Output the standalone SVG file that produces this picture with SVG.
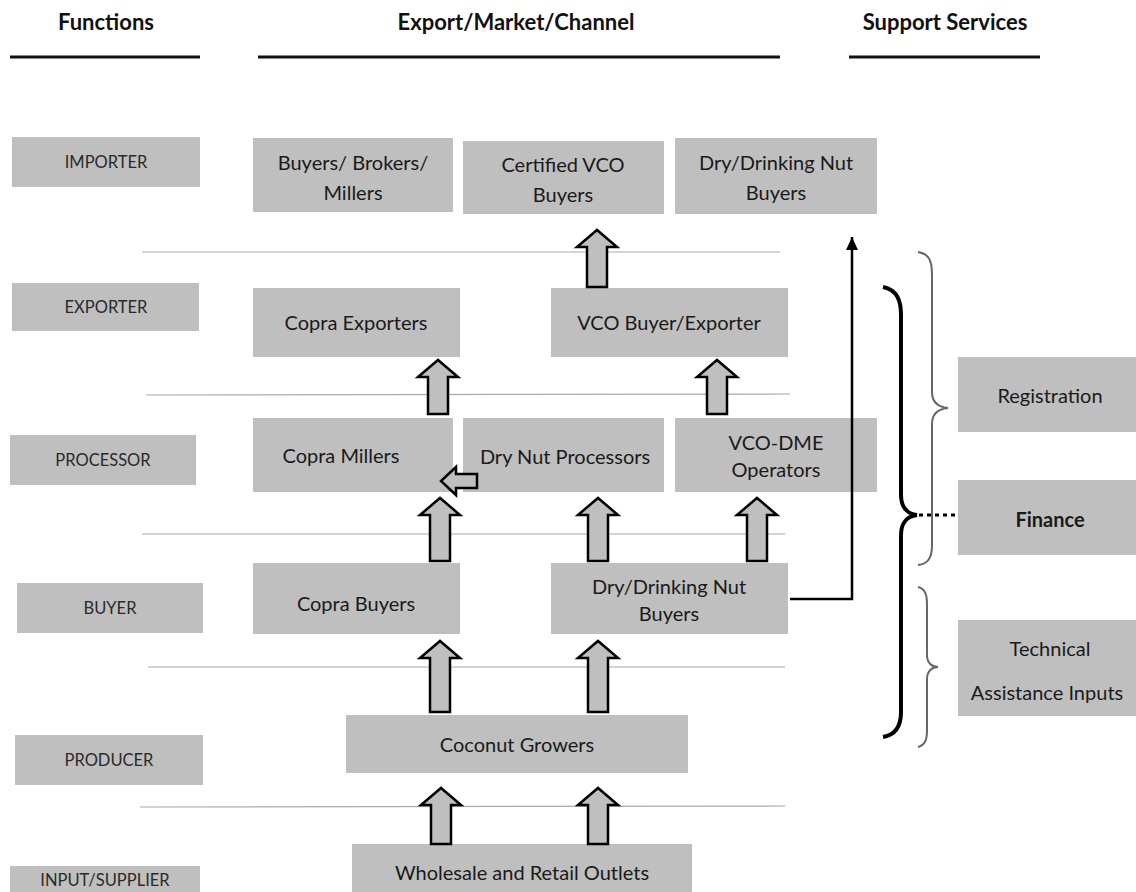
<svg xmlns="http://www.w3.org/2000/svg" width="1136" height="892" viewBox="0 0 1136 892">
<style>
text{font-family:Lato,"Open Sans","Liberation Sans",sans-serif;fill:#1a1a1a;text-anchor:middle}
.hdr{font-size:22px;font-weight:bold;fill:#111}
.fn{font-size:16.5px;fill:#2a2a2a}
.bx{fill:#bfbfbf}
.t{font-size:20px}
.sep{stroke:#aaa;stroke-width:1.2;fill:none}
.hl{stroke:#111;stroke-width:3}
.ua{fill:#bfbfbf;stroke:#000;stroke-width:2.5;stroke-linejoin:miter}
</style>
<defs>
<marker id="ah" markerWidth="13" markerHeight="12" refX="13" refY="6" orient="auto" markerUnits="userSpaceOnUse" viewBox="0 0 13 12">
<path d="M0,0 L13,6 L0,12 Z" fill="#000"/>
</marker>
</defs>
<rect width="1136" height="892" fill="#fff"/>
<g id="headers">
<text class="hdr" x="106" y="30">Functions</text>
<text class="hdr" x="516" y="30">Export/Market/Channel</text>
<text class="hdr" x="945" y="30">Support Services</text>
<line class="hl" x1="10" y1="57" x2="200" y2="57"/>
<line class="hl" x1="258" y1="57" x2="780" y2="57"/>
<line class="hl" x1="849" y1="57" x2="1040" y2="57"/>
</g>
<g id="separators">
<line class="sep" x1="142" y1="252" x2="780" y2="252"/>
<line class="sep" x1="146" y1="395" x2="790" y2="394"/>
<line class="sep" x1="142" y1="534" x2="785" y2="534"/>
<line class="sep" x1="148" y1="667" x2="785" y2="667"/>
<line class="sep" x1="140" y1="807" x2="785" y2="806"/>
</g>
<g id="fn-importer"><rect class="bx" x="12" y="137" width="188" height="50"/><text class="fn" x="106" y="168">IMPORTER</text></g>
<g id="fn-exporter"><rect class="bx" x="12" y="283" width="187" height="48"/><text class="fn" x="106" y="313">EXPORTER</text></g>
<g id="fn-processor"><rect class="bx" x="10" y="435" width="186" height="50"/><text class="fn" x="103" y="466">PROCESSOR</text></g>
<g id="fn-buyer"><rect class="bx" x="17" y="583" width="186" height="50"/><text class="fn" x="110" y="614">BUYER</text></g>
<g id="fn-producer"><rect class="bx" x="15" y="735" width="188" height="50"/><text class="fn" x="109" y="766">PRODUCER</text></g>
<g id="fn-input"><rect class="bx" x="10" y="866" width="190" height="40"/><text class="fn" x="105" y="886">INPUT/SUPPLIER</text></g>

<g id="n-brokers"><rect class="bx" x="253" y="138" width="200" height="74"/><text class="t" x="353" y="170">Buyers/ Brokers/</text><text class="t" x="353" y="200">Millers</text></g>
<g id="n-certvco"><rect class="bx" x="463" y="141" width="201" height="73"/><text class="t" x="563" y="172">Certified VCO</text><text class="t" x="563" y="202">Buyers</text></g>
<g id="n-drynutimp"><rect class="bx" x="675" y="138" width="202" height="76"/><text class="t" x="776" y="170">Dry/Drinking Nut</text><text class="t" x="776" y="200">Buyers</text></g>
<g id="n-copraexp"><rect class="bx" x="253" y="288" width="207" height="69"/><text class="t" x="356" y="330">Copra Exporters</text></g>
<g id="n-vcoexp"><rect class="bx" x="551" y="288" width="237" height="69"/><text class="t" x="669" y="330">VCO Buyer/Exporter</text></g>
<g id="n-copramill"><rect class="bx" x="253" y="418" width="200" height="74"/><text class="t" x="341" y="463">Copra Millers</text></g>
<g id="n-drynutproc"><rect class="bx" x="463" y="418" width="201" height="74"/><text class="t" x="565" y="464">Dry Nut Processors</text></g>
<g id="n-vcodme"><rect class="bx" x="675" y="418" width="202" height="74"/><text class="t" x="776" y="450">VCO-DME</text><text class="t" x="776" y="477">Operators</text></g>
<g id="n-coprabuy"><rect class="bx" x="253" y="563" width="207" height="71"/><text class="t" x="356" y="611">Copra Buyers</text></g>
<g id="n-drynutbuy"><rect class="bx" x="551" y="563" width="237" height="71"/><text class="t" x="669" y="594">Dry/Drinking Nut</text><text class="t" x="669" y="621">Buyers</text></g>
<g id="n-growers"><rect class="bx" x="346" y="715" width="342" height="58"/><text class="t" x="517" y="752">Coconut Growers</text></g>
<g id="n-outlets"><rect class="bx" x="352" y="844" width="340" height="60"/><text class="t" x="522" y="880">Wholesale and Retail Outlets</text></g>

<g id="s-registration"><rect class="bx" x="958" y="357" width="178" height="75"/><text class="t" x="1050" y="403">Registration</text></g>
<g id="s-finance"><rect class="bx" x="958" y="480" width="178" height="75"/><text class="t" x="1050" y="527" font-weight="bold">Finance</text></g>
<g id="s-technical"><rect class="bx" x="958" y="620" width="178" height="96"/><text class="t" x="1050" y="656">Technical</text><text class="t" x="1047" y="700">Assistance Inputs</text></g>

<g id="connectors">
<path class="ua" d="M587,287 V247 H577 L597,230 L617,247 H607 V287 Z"/>
<path class="ua" d="M428,414 V377 H418 L438,360 L458,377 H448 V414 Z"/>
<path class="ua" d="M707,414 V377 H697 L717,360 L737,377 H727 V414 Z"/>
<path class="ua" d="M430,561 V515 H420 L440,498 L460,515 H450 V561 Z"/>
<path class="ua" d="M588,561 V515 H578 L598,498 L618,515 H608 V561 Z"/>
<path class="ua" d="M747,561 V515 H737 L757,498 L777,515 H767 V561 Z"/>
<path class="ua" d="M430,712 V658 H420 L440,641 L460,658 H450 V712 Z"/>
<path class="ua" d="M588,712 V658 H578 L598,641 L618,658 H608 V712 Z"/>
<path class="ua" d="M431,844 V805 H421 L441,788 L461,805 H451 V844 Z"/>
<path class="ua" d="M588,844 V805 H578 L598,788 L618,805 H608 V844 Z"/>
<path class="ua" d="M477,474 H456 V467 L441,481 L456,495 V488 H477 Z"/>
<path d="M790,599 H852 V237" fill="none" stroke="#000" stroke-width="2.5" marker-end="url(#ah)"/>
<path d="M918,252 C930,254 932,262 932,275 V392 C932,402 938,407 948,408 C938,409 932,414 932,424 V545 C932,558 928,564 918,565" fill="none" stroke="#666" stroke-width="2"/>
<path d="M918,587 C926,589 927,596 927,605 V655 C927,663 932,667 938,667 C932,667 927,671 927,679 V730 C927,740 925,745 918,747" fill="none" stroke="#666" stroke-width="2"/>
<path d="M883,287 C897,290 901,300 901,315 V495 C901,508 908,514 917,515 C908,516 901,522 901,535 V712 C901,727 895,735 883,737" fill="none" stroke="#000" stroke-width="4"/>
<line x1="919" y1="515" x2="956" y2="515" stroke="#000" stroke-width="3" stroke-dasharray="4 4"/>
</g>
</svg>
